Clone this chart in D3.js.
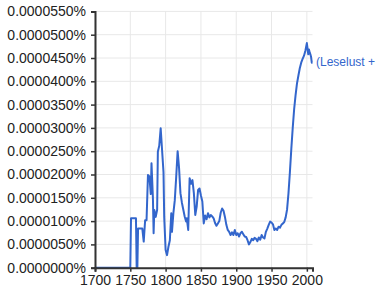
<!DOCTYPE html>
<html>
<head>
<meta charset="utf-8">
<script src="https://cdn.jsdelivr.net/npm/d3@7"></script>
<style>
  html, body { margin: 0; padding: 0; background: #fff; }
  svg { display: block; }
  text { font-family: "Liberation Sans", Arial, sans-serif; }
</style>
</head>
<body>
<svg id="chart" width="386" height="292"></svg>
<script>
// Years and frequencies (in percent) for the n-gram "(Leselust + ...)"
const years = [1700,1750,1751,1758,1759,1760,1761,1767,1769,1771,1773,1775,1777,1779,1780,1782,1783,1784,1786,1788,1789,1791,1793,1795,1797,1798,1800,1802,1804,1806,1808,1809,1811,1813,1815,1817,1819,1821,1823,1825,1827,1829,1830,1832,1834,1836,1838,1840,1842,1844,1846,1848,1850,1852,1854,1856,1858,1860,1862,1864,1866,1868,1870,1872,1874,1876,1878,1880,1882,1884,1886,1888,1890,1892,1894,1896,1898,1900,1902,1904,1906,1908,1910,1912,1914,1916,1918,1920,1922,1924,1926,1928,1930,1932,1934,1936,1938,1940,1942,1944,1946,1948,1950,1952,1954,1956,1958,1960,1962,1964,1966,1968,1970,1972,1974,1976,1978,1980,1982,1984,1986,1988,1990,1992,1994,1996,1998,2000,2001,2002,2003,2004,2005,2006,2007,2008];
const values = [0,0,0.0000106,0.0000106,0,0,0.0000084,0.0000084,0.0000056,0.0000102,0.0000102,0.0000199,0.0000196,0.0000158,0.0000224,0.0000150,0.0000074,0.0000124,0.0000109,0.0000124,0.0000249,0.0000262,0.0000299,0.0000252,0.0000205,0.0000109,0.0000038,0.0000027,0.0000045,0.0000059,0.0000117,0.0000077,0.0000117,0.0000145,0.0000195,0.0000250,0.0000215,0.0000160,0.0000140,0.0000125,0.0000110,0.0000099,0.0000106,0.0000081,0.0000192,0.0000180,0.0000188,0.0000160,0.0000113,0.0000131,0.0000167,0.0000170,0.0000155,0.0000142,0.0000095,0.0000112,0.0000104,0.0000117,0.0000108,0.0000113,0.0000110,0.0000106,0.0000096,0.0000090,0.0000095,0.0000100,0.0000118,0.0000127,0.0000122,0.0000109,0.0000092,0.0000081,0.0000077,0.0000070,0.0000076,0.0000070,0.0000081,0.0000070,0.0000074,0.0000067,0.0000074,0.0000077,0.0000072,0.0000067,0.0000066,0.0000059,0.0000050,0.0000055,0.0000062,0.0000059,0.0000064,0.0000062,0.0000057,0.0000065,0.0000060,0.0000070,0.0000065,0.0000063,0.0000077,0.0000084,0.0000092,0.0000099,0.0000097,0.0000093,0.0000081,0.0000084,0.0000081,0.0000088,0.0000086,0.0000092,0.0000095,0.0000098,0.0000108,0.0000125,0.0000160,0.0000205,0.0000255,0.0000300,0.0000340,0.0000370,0.0000395,0.0000412,0.0000428,0.0000440,0.0000448,0.0000455,0.0000466,0.0000482,0.0000470,0.0000458,0.0000468,0.0000462,0.0000458,0.0000452,0.0000440,0.0000440];
const yTicks = [0,0.000005,0.00001,0.000015,0.00002,0.000025,0.00003,0.000035,0.00004,0.000045,0.00005,0.000055];
const xTicks = [1700,1750,1800,1850,1900,1950,2000];
const seriesLabel = "(Leselust +";

const svg = d3.select("#chart");
const x = d3.scaleLinear().domain([1700, 2008]).range([95, 312.5]);
const y = d3.scaleLinear().domain([0, 0.000055]).range([267.7, 11.4]);

// gridlines
svg.append("g").selectAll("line.h").data(yTicks).join("line")
  .attr("x1", x(1700)).attr("x2", x(2008))
  .attr("y1", d => y(d)).attr("y2", d => y(d))
  .attr("stroke", "#e8e8e8").attr("stroke-width", 1);
svg.append("g").selectAll("line.v").data(xTicks).join("line")
  .attr("x1", d => x(d)).attr("x2", d => x(d))
  .attr("y1", y(0.000055)).attr("y2", y(0))
  .attr("stroke", "#e8e8e8").attr("stroke-width", 1);

// line
const data = years.map((yr, i) => ({yr, v: values[i]}));
svg.append("path").datum(data)
  .attr("fill", "none").attr("stroke", "#3366cc").attr("stroke-width", 2)
  .attr("stroke-linejoin", "round")
  .attr("d", d3.line().x(d => x(d.yr)).y(d => y(d.v)));

// axes
const yAxis = d3.axisLeft(y).tickValues(yTicks).tickSize(4).tickPadding(5)
  .tickFormat(d => d.toFixed(7) + "%");
const gy = svg.append("g").attr("transform", `translate(${x(1700)},0)`).call(yAxis);
gy.select(".domain").attr("stroke", "#333").attr("stroke-width", 2);
gy.selectAll(".tick line").attr("stroke", "#333").attr("stroke-width", 1.5);
gy.selectAll("text").attr("fill", "#222").style("font-size", "14px")
  .style("font-family", '"Liberation Sans", Arial, sans-serif');

const xAxis = d3.axisBottom(x).tickValues(xTicks).tickSize(4).tickPadding(3)
  .tickFormat(d3.format("d"));
const gx = svg.append("g").attr("transform", `translate(0,${y(0)})`).call(xAxis);
gx.select(".domain").attr("stroke", "#333").attr("stroke-width", 2);
gx.selectAll(".tick line").attr("stroke", "#333").attr("stroke-width", 1.5);
gx.selectAll("text").attr("fill", "#222").style("font-size", "14px")
  .style("font-family", '"Liberation Sans", Arial, sans-serif');

// series label
svg.append("text").attr("x", 316).attr("y", 66)
  .attr("fill", "#3366cc").style("font-size", "12px")
  .text(seriesLabel);
</script>
</body>
</html>
